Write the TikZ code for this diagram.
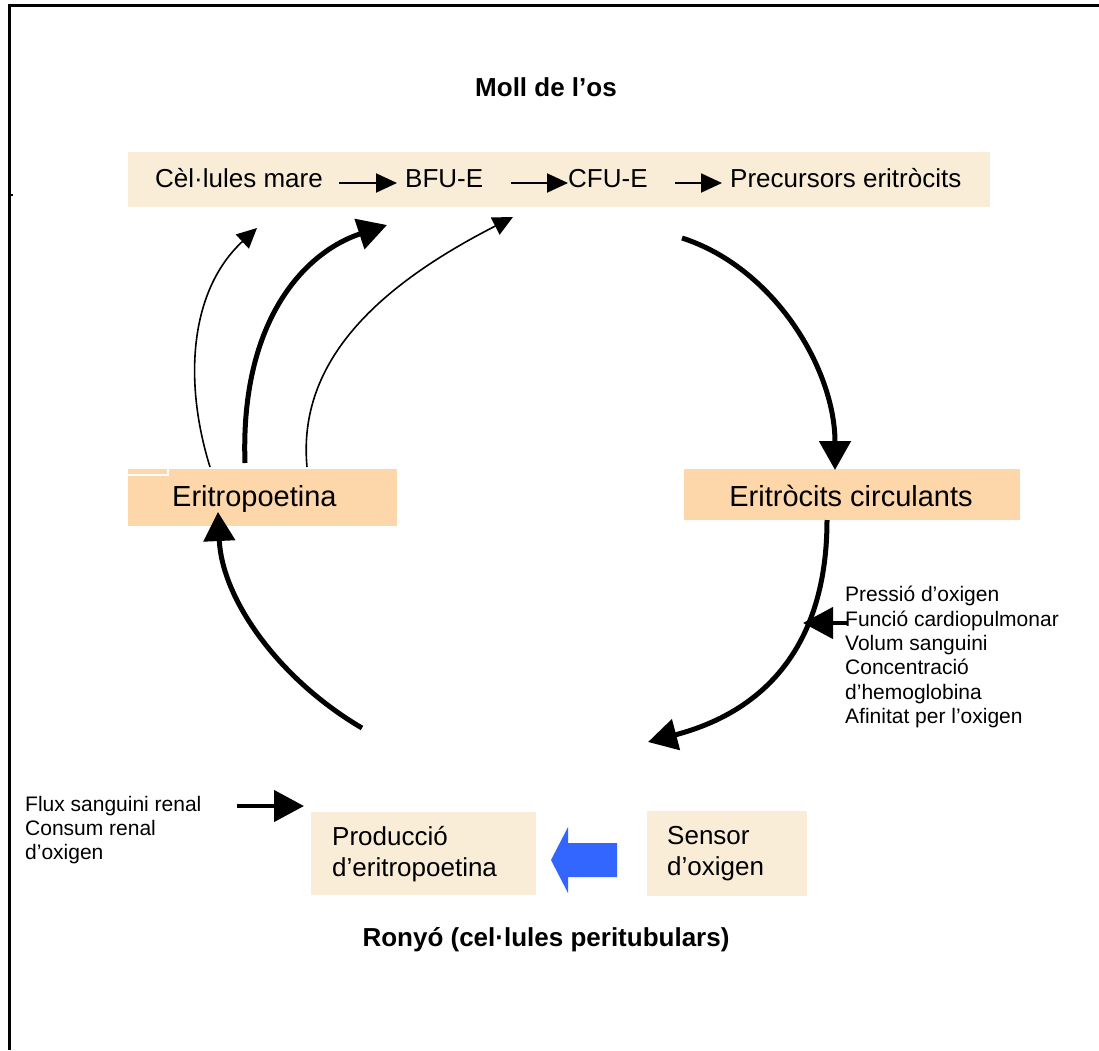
\documentclass[tikz,border=0pt]{standalone}
\usepackage{fontspec}
\setmainfont{Liberation Sans}
\usetikzlibrary{arrows.meta}
\definecolor{beige}{RGB}{249,237,216}
\definecolor{peach}{RGB}{253,214,170}
\definecolor{bluearr}{RGB}{51,102,255}
\newcommand\szbox{\fontsize{26}{31}\selectfont}
\newcommand\szbig{\fontsize{29}{34}\selectfont}
\newcommand\szsmall{\fontsize{21}{24.3}\selectfont}
\tikzset{
  thickarr/.style={line width=5pt, -{Triangle[length=29pt,width=31pt]}},
  thinarr/.style={line width=1.6pt, -{Triangle[length=20pt,width=19pt]}},
  toparr/.style={line width=2pt, -{Triangle[length=21pt,width=19pt]}},
  sidearr/.style={line width=4.5pt, -{Triangle[length=30pt,width=31pt]}},
  boxnode/.style={rectangle, inner sep=0pt, draw=none},
  txt/.style={inner sep=0pt, align=left},
}
\begin{document}
\begin{tikzpicture}[x=1pt,y=-1pt]
\useasboundingbox (0,0) rectangle (1099,1050);
\fill[white] (0,0) rectangle (1099,1050);
% frame
\draw[line width=3pt] (9,1050) -- (9,5) -- (1099,5);
\fill (11,194) rectangle (13,196);

% titles
\node[txt, font=\bfseries\szbox] (moll) at (546,87) {Moll de l’os};
\node[txt, font=\bfseries\szbox] (ronyo) at (546,940) {Ronyó (cel·lules peritubulars)};

% top bar
\node[boxnode, fill=beige, minimum width=862, minimum height=55] (bar) at (559,179.5) {};
\node[txt, font=\szbox, anchor=base west] (cel) at (155,187) {Cèl·lules mare};
\node[txt, font=\szbox, anchor=base west] (bfu) at (405,187) {BFU-E};
\node[txt, font=\szbox, anchor=base west] (cfu) at (568,187) {CFU-E};
\node[txt, font=\szbox, anchor=base west] (prec) at (730,187) {Precursors eritròcits};
\draw[toparr] ([xshift=16pt]cel.east |- 0,183) -- ([xshift=-8pt]bfu.west |- 0,183);
\draw[toparr] ([xshift=28pt]bfu.east |- 0,183) -- (cfu.west |- 0,183);
\draw[toparr] ([xshift=27pt]cfu.east |- 0,183) -- ([xshift=-8pt]prec.west |- 0,183);

% middle boxes
\node[boxnode, fill=peach, minimum width=269, minimum height=57] (epobox) at (262.5,497.5) {};
\draw[white, line width=1.2pt] (128,475) -- (168,475) -- (168,469);
\node[txt, font=\szbig, anchor=base west] (epo) at (172,506) {Eritropoetina};
\node[boxnode, fill=peach, minimum width=336, minimum height=51] (ercbox) at (852,494.5) {};
\node[txt, font=\szbig, anchor=base] (erc) at (851,506) {Eritròcits circulants};

% bottom boxes
\node[boxnode, fill=beige, minimum width=225, minimum height=83] (prodbox) at (423.5,853.5) {};
\node[txt, font=\szbox, anchor=west] (prod) at (332,854) {Producció\\d’eritropoetina};
\node[boxnode, fill=beige, minimum width=160, minimum height=85] (sensbox) at (727,853.5) {};
\node[txt, font=\szbox, anchor=west] (sens) at (667,854) {Sensor\\d’oxigen};

% side texts
\node[txt, font=\szsmall, anchor=west] (factors) at (845,657) {Pressió d’oxigen\\Funció cardiopulmonar\\Volum sanguini\\Concentració\\d’hemoglobina\\Afinitat per l’oxigen};
\node[txt, font=\szsmall, anchor=west] (renal) at (25,830) {Flux sanguini renal\\Consum renal\\d’oxigen};

% coordinates for curved connectors
\coordinate (c1s) at (682,238);
\coordinate (c1e) at (835,470);
\coordinate (c2s) at (827,520);
\coordinate (c2e) at (648,742);
\coordinate (c4s) at (362,728);
\coordinate (c4e) at (218,512);
\coordinate (aS) at (210,467);
\coordinate (aE) at (257,228);
\coordinate (bS) at (245,463);
\coordinate (bE) at (387,225);
\coordinate (cS) at (307,467);
\coordinate (cE) at (513,217);
\coordinate (fS) at (847,623);
\coordinate (fE) at (803,623);
\coordinate (rS) at (237,806);
\coordinate (rE) at (304,806);

% curved connectors
\draw[thickarr] (c1s) .. controls (775,268) and (835,370) .. (c1e);
\draw[thickarr] (c2s) .. controls (827,640) and (770,710) .. (c2e);
\draw[thickarr] (c4s) .. controls (280,680) and (222,600) .. (c4e);
\draw[thinarr] (aS) .. controls (183,380) and (190,290) .. (aE);
\draw[thickarr] (bS) .. controls (240,320) and (305,252) .. (bE);
\draw[thinarr] (cS) .. controls (297,360) and (380,285) .. (cE);
\draw[sidearr] (fS) -- (fE);
\draw[sidearr] (rS) -- (rE);

% blue arrow
\fill[bluearr] (551,860) -- (568,827) -- (568,843) -- (617,843) -- (617,877) -- (568,877) -- (568,893) -- cycle;
\end{tikzpicture}
\end{document}
